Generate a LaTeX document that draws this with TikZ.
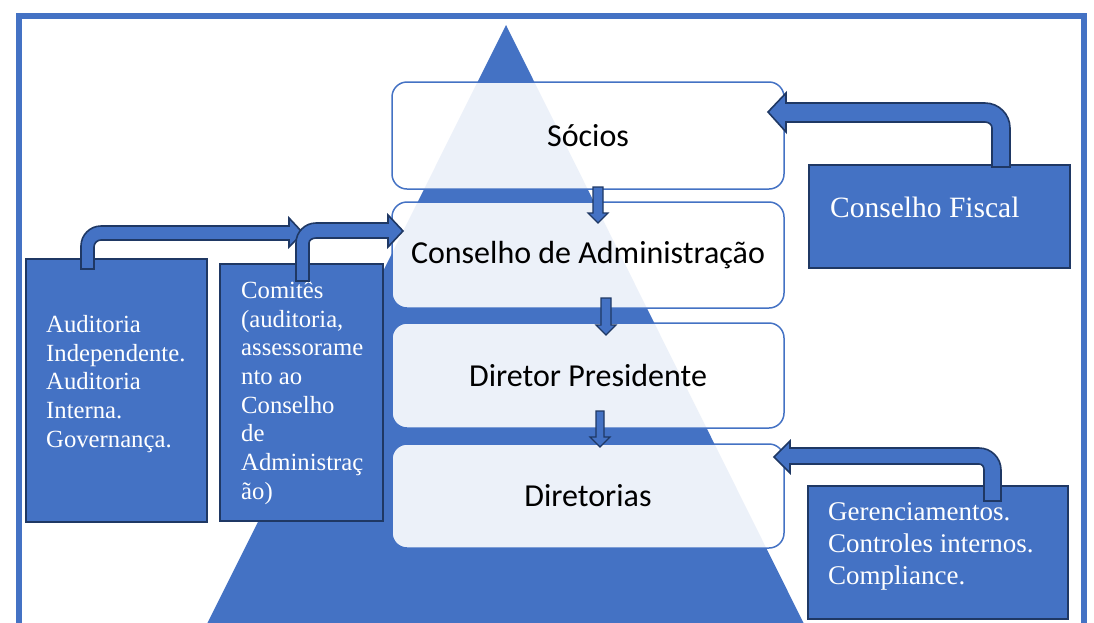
\documentclass[tikz,border=0pt]{standalone}
\usepackage{fontspec}
\setmainfont{Liberation Serif}
\newfontfamily\calib{Carlito}
\definecolor{ablue}{HTML}{4472C4}
\definecolor{anavy}{HTML}{1F3864}
\begin{document}
\begin{tikzpicture}[x=1pt,y=-1pt,
  pbox/.style={draw=ablue, line width=1.5pt, rounded corners=15pt, fill=white, fill opacity=0.9, text opacity=1,
    minimum width=392pt, minimum height=106pt, inner sep=0pt, font=\calib\fontsize{32}{38}\selectfont},
  sbox/.style={draw=anavy, line width=2pt, fill=ablue, inner sep=0pt},
  stext/.style={text=white, inner sep=0pt, align=left, anchor=north west},
  barrow/.style={fill=ablue, draw=anavy, line width=1.6pt, line join=miter},
  darrow/.style={fill=ablue, draw=anavy, line width=1.2pt, line join=miter}]
\useasboundingbox (0,0) rectangle (1094,622);
\begin{scope}
\clip (0,0) rectangle (1094,622);
\fill[white] (0,0) rectangle (1094,622);
\draw[ablue, line width=6pt] (19,16) rectangle (1083.5,660);
\fill[ablue] (506,25) -- (812,640) -- (199,640) -- cycle;
\end{scope}

% central boxes
\node[pbox, minimum height=107pt] (socios) at (588,135.5) {Sócios};
\node[pbox] (cda) at (588,255) {Conselho de Administração};
\node[pbox, minimum height=105pt] (dp) at (588,375.5) {Diretor Presidente};
\node[pbox, minimum height=104pt] (dir) at (588,496) {Diretorias};

% small down arrows
\path[darrow] (593,187) -- (603,187) -- (603,213) -- (608,213) -- (598,223) -- (588,213) -- (593,213) -- cycle;
\path[darrow] (601,298) -- (611,298) -- (611,325) -- (616,325) -- (606,335) -- (596,325) -- (601,325) -- cycle;
\path[darrow] (596,411) -- (604,411) -- (604,437) -- (610,437) -- (600,447) -- (590,437) -- (596,437) -- cycle;

% side boxes
\node[sbox, minimum width=181pt, minimum height=263pt] (aud) at (116.5,390.5) {};
\node[sbox, minimum width=163pt, minimum height=257pt] (com) at (301.5,392.5) {};
\node[sbox, minimum width=261pt, minimum height=103pt] (cf) at (939.5,216.5) {};
\node[sbox, minimum width=260pt, minimum height=133pt] (ger) at (938,552.5) {};

\node[stext, font=\fontsize{24.7}{28.8}\selectfont] (audt) at (46,315) {Auditoria\\Independente.\\Auditoria\\Interna.\\Governança.};
\node[stext, font=\fontsize{24.7}{28.7}\selectfont] (comt) at (241,281) {Comitês\\(auditoria,\\assessorame\\nto ao\\Conselho\\de\\Administraç\\ão)};
\node[text=white, inner sep=0pt, anchor=base west, font=\fontsize{29.5}{34}\selectfont] (cft) at (830,217) {Conselho Fiscal};
\node[stext, font=\fontsize{27}{32}\selectfont] (gert) at (828,502) {Gerenciamentos.\\Controles internos.\\Compliance.};

% bent arrows
\path[barrow] (81,269) -- (81,246) .. controls (81,234.95) and (89.95,226) .. (101,226) -- (289,226) -- (289,218) -- (303,233) -- (289,247) -- (289,240) -- (101,240) .. controls (97.1,240) and (94,243.1) .. (94,247) -- (94,269) -- cycle;
\path[barrow] (296,281) -- (296,243) .. controls (296,231.95) and (304.95,223) .. (316,223) -- (388,223) -- (388,215) -- (403,231) -- (388,247) -- (388,238) -- (316,238) .. controls (312.1,238) and (309,240.2) .. (309,243) -- (309,281) -- cycle;
\path[barrow] (1010,167) -- (1010,128) .. controls (1010,114.2) and (998.8,103) .. (985,103) -- (786,103) -- (786,93) -- (768,112) -- (786,132) -- (786,122) -- (985,122) .. controls (988.9,122) and (992,124.7) .. (992,128) -- (992,167) -- cycle;
\path[barrow] (1001,501) -- (1001,470) .. controls (1001,457.85) and (991.15,448) .. (979,448) -- (790,448) -- (790,441) -- (774,457) -- (790,473) -- (790,464) -- (979,464) .. controls (982.3,464) and (984,466.7) .. (984,470) -- (984,501) -- cycle;
\end{tikzpicture}
\end{document}
